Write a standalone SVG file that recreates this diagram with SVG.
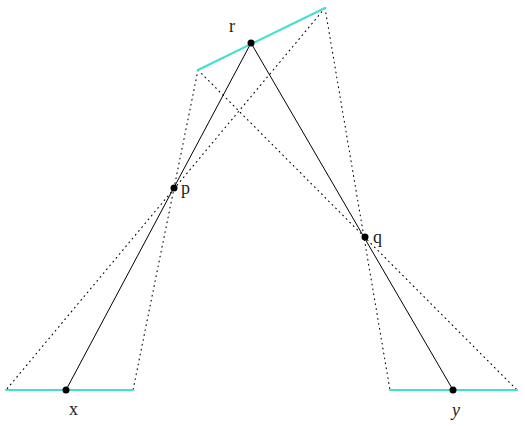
<svg xmlns="http://www.w3.org/2000/svg" width="525" height="426" viewBox="0 0 525 426">
<style>
.seg{stroke:#40E0D0;stroke-width:2;fill:none;stroke-linecap:round}
.sol{stroke:#000;stroke-width:1;fill:none}
.dot{stroke:#000;stroke-width:1.1;fill:none;stroke-dasharray:0.8 4.2;stroke-linecap:round}
.pt{fill:#000}
text{font-family:"Liberation Serif","DejaVu Serif",serif;font-size:18px;fill:#222}
</style>
<rect width="525" height="426" fill="#fff"/>
<g id="connectors">
<line class="dot" x1="198" y1="70" x2="133" y2="390"/>
<line class="dot" x1="198" y1="70" x2="517" y2="390"/>
<line class="dot" x1="325" y1="8" x2="6" y2="390"/>
<line class="dot" x1="325" y1="8" x2="390" y2="390"/>
<line class="sol" x1="251" y1="43" x2="66" y2="390"/>
<line class="sol" x1="251" y1="43" x2="453" y2="390"/>
</g>
<g id="segment-r"><line class="seg" x1="198" y1="70" x2="325" y2="8"/></g>
<g id="segment-x"><line class="seg" x1="6" y1="390" x2="133" y2="390"/></g>
<g id="segment-y"><line class="seg" x1="390" y1="390" x2="517" y2="390"/></g>
<g id="node-r"><circle class="pt" cx="251" cy="43" r="3.5"/><text x="229" y="32">r</text></g>
<g id="node-p"><circle class="pt" cx="174" cy="188" r="3.5"/><text x="181" y="194">p</text></g>
<g id="node-q"><circle class="pt" cx="365" cy="237" r="3.5"/><text x="373" y="243">q</text></g>
<g id="node-x"><circle class="pt" cx="66" cy="390" r="3.5"/><text x="69" y="415">x</text></g>
<g id="node-y"><circle class="pt" cx="453" cy="390" r="3.5"/><text x="452" y="416" font-style="italic">y</text></g>
</svg>
